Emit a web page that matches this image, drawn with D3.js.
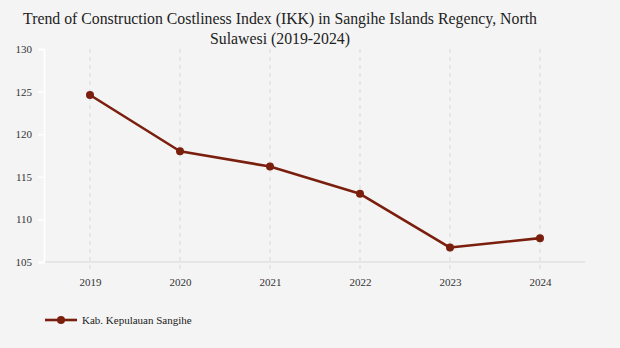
<!DOCTYPE html>
<html>
<head>
<meta charset="utf-8">
<script src="https://cdn.jsdelivr.net/npm/d3@7"></script>
<style>
  html, body { margin: 0; padding: 0; background: #f4f4f4; }
  svg { display: block; }
</style>
</head>
<body>
<svg id="chart" width="620" height="348"></svg>
<script>
// IKK values for Kab. Kepulauan Sangihe, 2019–2024
const years = ["2019", "2020", "2021", "2022", "2023", "2024"];
const ikkValues = [124.6, 118.0, 116.2, 113.0, 106.7, 107.8];
const yTicks = [105, 110, 115, 120, 125, 130];
const seriesName = "Kab. Kepulauan Sangihe";
const titleLines = [
  "Trend of Construction Costliness Index (IKK) in Sangihe Islands Regency, North",
  "Sulawesi (2019-2024)"
];

const W = 620, H = 348;
const margin = { left: 44, right: 35, top: 49, bottom: 86 };
const lineColor = "#7a1f0e";
const serif = "'Liberation Serif', 'Times New Roman', serif";

const svg = d3.select("#chart");
svg.append("rect").attr("width", W).attr("height", H).attr("fill", "#f4f4f4");

const x = d3.scalePoint().domain(years).range([90, 540]);
const y = d3.scaleLinear().domain([105, 130]).range([H - margin.bottom, margin.top]);

// title
svg.append("g").selectAll("text").data(titleLines).join("text")
  .attr("x", 280).attr("y", (d, i) => 23.5 + i * 20)
  .attr("text-anchor", "middle")
  .attr("font-family", serif)
  .attr("font-size", 15.8)
  .attr("fill", "#222")
  .text(d => d);

// vertical dashed gridlines
svg.append("g").selectAll("line").data(years).join("line")
  .attr("x1", d => x(d)).attr("x2", d => x(d))
  .attr("y1", margin.top).attr("y2", y(105) + 8)
  .attr("stroke", "#dcdcdc").attr("stroke-width", 1.2)
  .attr("stroke-dasharray", "4,4");

// baseline
svg.append("line")
  .attr("x1", margin.left).attr("x2", 585)
  .attr("y1", y(105)).attr("y2", y(105))
  .attr("stroke", "#e6e6e6").attr("stroke-width", 2);

// y axis
const yAxis = svg.append("g")
  .attr("transform", `translate(${margin.left},0)`)
  .call(d3.axisLeft(y).tickValues(yTicks).tickSize(6).tickPadding(6));
yAxis.select(".domain").attr("stroke", "#ffffff").attr("stroke-width", 1.5);
yAxis.selectAll(".tick line").attr("stroke", "#ffffff").attr("stroke-width", 1.5);
yAxis.selectAll(".tick text")
  .attr("font-family", serif).attr("font-size", 11).attr("fill", "#333");

// x axis labels
const xAxis = svg.append("g")
  .attr("transform", `translate(0,${y(105)})`)
  .call(d3.axisBottom(x).tickSize(0).tickPadding(16));
xAxis.select(".domain").remove();
xAxis.selectAll(".tick text")
  .attr("font-family", serif).attr("font-size", 11).attr("fill", "#333");

// series line and markers
const data = years.map((yr, i) => ({ yr, v: ikkValues[i] }));
svg.append("path").datum(data)
  .attr("fill", "none").attr("stroke", lineColor).attr("stroke-width", 2.6)
  .attr("stroke-linejoin", "round")
  .attr("d", d3.line().x(d => x(d.yr)).y(d => y(d.v)));
svg.append("g").selectAll("circle").data(data).join("circle")
  .attr("cx", d => x(d.yr)).attr("cy", d => y(d.v)).attr("r", 4)
  .attr("fill", lineColor);

// legend
const lg = svg.append("g").attr("transform", "translate(45,320)");
lg.append("line").attr("x1", 0).attr("x2", 32).attr("y1", 0).attr("y2", 0)
  .attr("stroke", lineColor).attr("stroke-width", 2.6);
lg.append("circle").attr("cx", 16).attr("cy", 0).attr("r", 4).attr("fill", lineColor);
lg.append("text").attr("x", 37).attr("y", 4)
  .attr("font-family", serif).attr("font-size", 11).attr("fill", "#222")
  .text(seriesName);
</script>
</body>
</html>
